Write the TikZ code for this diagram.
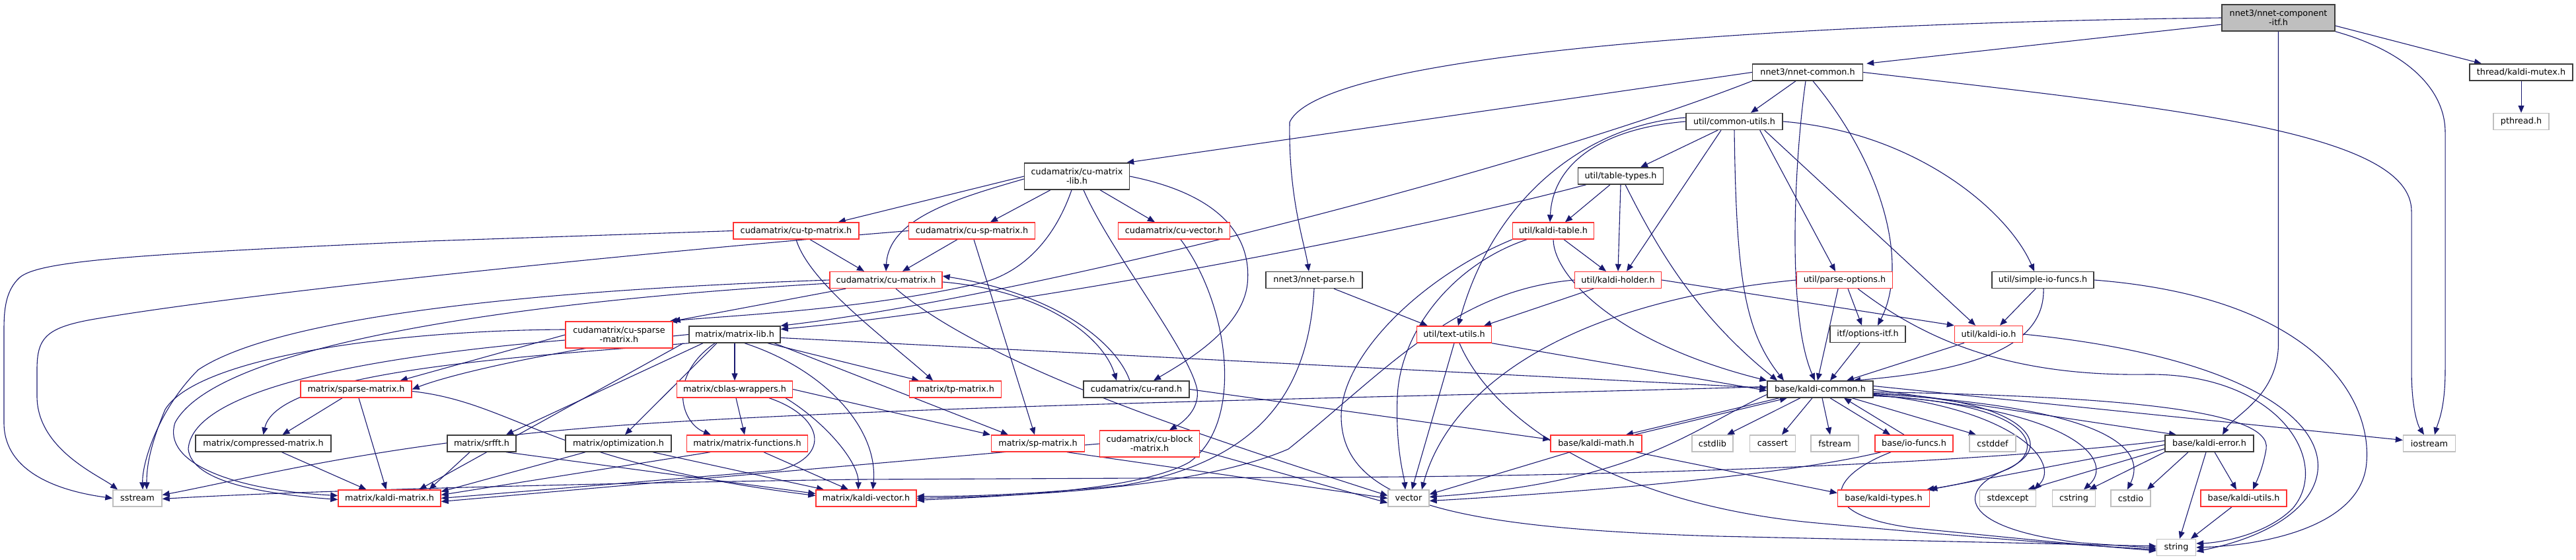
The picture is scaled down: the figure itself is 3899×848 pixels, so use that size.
\documentclass[tikz,border=0pt]{standalone}
\usepackage{fontspec}
\setmainfont{DejaVu Sans}
\usetikzlibrary{arrows.meta,backgrounds}
\definecolor{edgec}{RGB}{25,25,112}
\definecolor{redb}{RGB}{255,50,50}
\definecolor{grayb}{RGB}{191,191,191}
\definecolor{blackb}{RGB}{60,60,60}
\newcommand{\dxfont}{\fontsize{12.8}{14}\selectfont}
\begin{document}
\begin{tikzpicture}[x=1pt,y=-1pt,
 nd/.style={draw=blackb, fill=white, line width=1.4pt, minimum height=25pt, inner sep=0pt, font=\dxfont, align=center},
 rd/.style={nd, draw=redb},
 gy/.style={nd, draw=grayb},
 e/.style={draw=edgec, line width=1.1pt, -{Triangle[length=11pt,width=9pt]}}]
\useasboundingbox (0,0) rectangle (3899,848);
% nodes
\node[nd, fill=grayb, minimum width=171, minimum height=40] (A) at (3448.5,27) {nnet3/nnet-component\\-itf.h};
\node[nd, minimum width=156] (C) at (3816,109.5) {thread/kaldi-mutex.h};
\node[gy, minimum width=84] (D) at (3816,184) {pthread.h};
\node[nd, minimum width=167] (B) at (2736,109.5) {nnet3/nnet-common.h};
\node[nd, minimum width=146] (E) at (2625,184) {util/common-utils.h};
\node[nd, minimum width=159, minimum height=40] (F) at (1630,267) {cudamatrix/cu-matrix\\-lib.h};
\node[nd, minimum width=146] (G) at (1989,424) {nnet3/nnet-parse.h};
\node[nd, minimum width=129] (H) at (2453,266.5) {util/table-types.h};
\node[rd, minimum width=123] (I) at (2351,349.5) {util/kaldi-table.h};
\node[rd, minimum width=190] (J) at (1205,349.5) {cudamatrix/cu-tp-matrix.h};
\node[rd, minimum width=191] (K) at (1471,349.5) {cudamatrix/cu-sp-matrix.h};
\node[rd, minimum width=169] (L) at (1777,349.5) {cudamatrix/cu-vector.h};
\node[rd, minimum width=145] (M) at (2792,424) {util/parse-options.h};
\node[nd, minimum width=154] (N) at (3092,424) {util/simple-io-funcs.h};
\node[rd, minimum width=170] (O) at (1341,424) {cudamatrix/cu-matrix.h};
\node[rd, minimum width=131] (P) at (2449,424) {util/kaldi-holder.h};
\node[rd, minimum width=162, minimum height=40] (Q) at (937,507) {cudamatrix/cu-sparse\\-matrix.h};
\node[nd, minimum width=138] (R) at (1112,506.5) {matrix/matrix-lib.h};
\node[rd, minimum width=113] (S) at (2201,506.5) {util/text-utils.h};
\node[nd, minimum width=114] (T) at (2827,506) {itf/options-itf.h};
\node[rd, minimum width=103] (U) at (3010,506) {util/kaldi-io.h};
\node[rd, minimum width=168] (V) at (539,589.5) {matrix/sparse-matrix.h};
\node[rd, minimum width=139] (W) at (1446,589.5) {matrix/tp-matrix.h};
\node[nd, minimum width=160] (X) at (1720,589.5) {cudamatrix/cu-rand.h};
\node[nd, minimum width=160] (Y) at (2755,589.5) {base/kaldi-common.h};
\node[rd, minimum width=175] (Z) at (1112,589.5) {matrix/cblas-wrappers.h};
\node[nd, minimum width=205] (AA) at (398.5,671.5) {matrix/compressed-matrix.h};
\node[nd, minimum width=104] (AB) at (729,671.5) {matrix/srfft.h};
\node[nd, minimum width=160] (AC) at (936,671.5) {matrix/optimization.h};
\node[rd, minimum width=183] (AD) at (1131,671.5) {matrix/matrix-functions.h};
\node[rd, minimum width=141] (AE) at (1571,671.5) {matrix/sp-matrix.h};
\node[rd, minimum width=151, minimum height=40] (AF) at (1740,672) {cudamatrix/cu-block\\-matrix.h};
\node[rd, minimum width=138] (AG) at (2416,671.5) {base/kaldi-math.h};
\node[gy, minimum width=62] (AH) at (2592,671.5) {cstdlib};
\node[gy, minimum width=69] (AI) at (2683,671.5) {cassert};
\node[gy, minimum width=72] (AJ) at (2777,671.5) {fstream};
\node[rd, minimum width=118] (AK) at (2897,671.5) {base/io-funcs.h};
\node[gy, minimum width=70] (AL) at (3016,671.5) {cstddef};
\node[nd, minimum width=134] (AM) at (3344,671.5) {base/kaldi-error.h};
\node[gy, minimum width=79] (AN) at (3677,671.5) {iostream};
\node[gy, minimum width=74] (AO) at (208,754.5) {sstream};
\node[rd, minimum width=155] (AP) at (589.5,754.5) {matrix/kaldi-matrix.h};
\node[rd, minimum width=152] (AQ) at (1311,754.5) {matrix/kaldi-vector.h};
\node[gy, minimum width=62] (AR) at (2132,754.5) {vector};
\node[rd, minimum width=139] (AS) at (2851,754.5) {base/kaldi-types.h};
\node[gy, minimum width=85] (AT) at (3039,754.5) {stdexcept};
\node[gy, minimum width=65] (AU) at (3139,754.5) {cstring};
\node[gy, minimum width=60] (AV) at (3225,754.5) {cstdio};
\node[rd, minimum width=130] (AW) at (3396,754.5) {base/kaldi-utils.h};
\node[gy, minimum width=59] (AX) at (3294,829) {string};
% edges
\begin{scope}[on background layer]
% root
\draw[e] (A.west) .. controls (2700,35) and (2000,80) .. (1952,185) .. controls (1950,300) and (1975,370) .. ([xshift=-8]G.north);
\draw[e] ([yshift=-10]A.west) -- ([xshift=5]B.north east);
\draw[e] (A.south) -- (3448.5,520) .. controls (3448.5,600) and (3380,630) .. ([xshift=20]AM.north);
\draw[e] (A.south east) .. controls (3650,80) and (3701,140) .. (3701,200) -- (3701,560) .. controls (3701,620) and (3690,640) .. ([xshift=8]AN.north);
\draw[e] ([yshift=-12]A.east) -- ([xshift=-60]C.north);
\draw[e] (C) -- (D);
% B
\draw[e] (B.west) -- ([xshift=-5]F.north east);
\draw[e] (B.south west) .. controls (2300,260) and (1550,450) .. (R.north east);
\draw[e] ([xshift=-18]B.south) -- ([xshift=25]E.north);
\draw[e] ([xshift=-3]B.south) .. controls (2715,250) and (2705,480) .. ([xshift=-8]Y.north);
\draw[e] ([xshift=8]B.south) .. controls (2850,250) and (2890,400) .. ([xshift=15]T.north);
\draw[e] (B.east) .. controls (3300,165) and (3650,200) .. (3650,320) -- (3650,560) .. controls (3650,620) and (3660,645) .. ([xshift=-8]AN.north);
% E
\draw[e] ([xshift=-25]E.south) -- ([xshift=30]H.north);
\draw[e] ([xshift=-20]E.south) -- ([xshift=13]P.north);
\draw[e] (E.west) .. controls (2420,195) and (2350,250) .. ([xshift=-5]I.north);
\draw[e] ([yshift=6]E.west) .. controls (2400,190) and (2260,300) .. ([xshift=6]S.north);
\draw[e] (E.south) .. controls (2628,420) and (2640,500) .. ([xshift=-55]Y.north);
\draw[e] ([xshift=-35]E.south east) -- ([xshift=-14]M.north);
\draw[e] ([xshift=-28]E.south east) -- ([xshift=-20]U.north);
\draw[e] (E.east) .. controls (2900,200) and (3040,320) .. ([xshift=-13]N.north);
% F
\draw[e] (F.west) -- ([xshift=-32]J.north east);
\draw[e] ([yshift=-4]F.west) .. controls (1450,300) and (1345,330) .. (O.north);
\draw[e] ([xshift=-40]F.south) -- ([xshift=28]K.north);
\draw[e] ([xshift=-8]F.south) .. controls (1590,380) and (1530,420) .. (1478,430) .. controls (1300,470) and (1100,478) .. ([xshift=-5]Q.north east);
\draw[e] ([xshift=10]F.south) .. controls (1680,380) and (1800,530) .. (1812,590) .. controls (1816,620) and (1790,640) .. ([xshift=30]AF.north);
\draw[e] ([xshift=35]F.south) -- ([xshift=-29]L.north);
\draw[e] (F.east) .. controls (1850,295) and (1895,360) .. (1888,430) .. controls (1880,500) and (1790,550) .. ([xshift=26]X.north);
% G
\draw[e] ([xshift=30]G.south) -- ([xshift=-40]S.north);
\draw[e] (G.south) .. controls (1980,600) and (1900,700) .. (1700,735) .. controls (1550,750) and (1450,752) .. ([yshift=3]AQ.east);
% H
\draw[e] ([xshift=-16]H.south) -- ([xshift=18]I.north);
\draw[e] (H.south) -- (P.north);
\draw[e] ([xshift=13]H.south west) .. controls (2100,360) and (1500,470) .. ([yshift=8]R.east);
\draw[e] ([xshift=7]H.south) .. controls (2510,380) and (2570,480) .. ([xshift=-65]Y.north);
% I
\draw[e] ([xshift=16]I.south) -- ([xshift=-18]P.north);
\draw[e] (I.south) .. controls (2352,420) and (2450,520) .. (Y.north west);
\draw[e] ([xshift=-40]I.south) .. controls (2200,400) and (2120,500) .. (2115,600) .. controls (2112,680) and (2125,720) .. ([xshift=-5]AR.north);
\draw[e] (I.south west) .. controls (2150,420) and (2030,540) .. (2030,630) .. controls (2030,760) and (2200,800) .. (2600,812) -- ([yshift=2]AX.west);
% J
\draw[e] (J.west) -- (650,365) .. controls (200,385) and (60,395) .. (30,420) .. controls (8,440) and (6,470) .. (6,500) -- (6,640) .. controls (6,720) and (100,745) .. (AO.west);
\draw[e] ([xshift=21]J.south) -- ([xshift=-33]O.north);
\draw[e] (J.south) .. controls (1225,430) and (1350,520) .. ([xshift=-34]W.north);
% K
\draw[e] (K.west) .. controls (1000,380) and (400,440) .. (150,482) .. controls (70,495) and (56,510) .. (56,560) -- (56,600) .. controls (56,680) and (150,720) .. ([xshift=-30]AO.north);
\draw[e] ([xshift=-22]K.south) -- ([xshift=25]O.north);
\draw[e] ([xshift=3]K.south) -- ([xshift=-5]AE.north);
% L
\draw[e] ([xshift=10]L.south) .. controls (1860,460) and (1885,640) .. (1800,700) .. controls (1720,745) and (1500,752) .. ([yshift=-3]AQ.east);
% M
\draw[e] ([xshift=-10]M.south) -- ([xshift=-4]Y.north);
\draw[e] ([xshift=5]M.south) -- ([xshift=-9]T.north);
\draw[e] (M.west) .. controls (2350,460) and (2190,600) .. ([xshift=20]AR.north);
\draw[e] ([xshift=20]M.south) .. controls (2920,520) and (3050,570) .. (3250,567) .. controls (3450,565) and (3530,700) .. (3470,770) .. controls (3430,810) and (3360,822) .. ([yshift=6]AX.east);
% N
\draw[e] ([xshift=-11]N.south) -- ([xshift=17]U.north);
\draw[e] ([xshift=1]N.south) .. controls (3095,520) and (3000,560) .. ([xshift=50]Y.north);
\draw[e] (N.east) .. controls (3500,450) and (3590,600) .. (3582,700) .. controls (3575,800) and (3420,826) .. (AX.east);
% O
\draw[e] ([xshift=-61]O.south) -- (Q.north east);
\draw[e] (O.west) .. controls (800,440) and (420,480) .. (300,560) .. controls (240,620) and (215,700) .. ([xshift=8]AO.north);
\draw[e] ([yshift=-5]O.west) .. controls (800,455) and (330,520) .. (265,640) .. controls (245,700) and (350,742) .. ([yshift=4]AP.west);
\draw[e] ([yshift=-3]O.east) .. controls (1580,440) and (1670,510) .. ([xshift=-30]X.north);
\draw[e] ([xshift=-10]X.north) .. controls (1690,520) and (1600,445) .. ([yshift=6]O.east);
\draw[e] ([xshift=15]O.south) .. controls (1500,560) and (1850,670) .. ([yshift=4]AR.west);
% P
\draw[e] ([xshift=-37]P.south) -- ([xshift=45]S.north);
\draw[e] (P.east) -- (U.north west);
\draw[e] (P.west) .. controls (2200,440) and (2100,560) .. (1950,680) .. controls (1800,745) and (1500,752) .. (AQ.east);
% Q
\draw[e] (Q.west) -- ([xshift=-18]V.north east);
\draw[e] ([yshift=-8]Q.west) .. controls (500,545) and (290,600) .. (285,680) .. controls (290,730) and (400,748) .. ([yshift=-2]AP.west);
\draw[e] ([yshift=8]Q.west) .. controls (600,500) and (300,540) .. (250,620) .. controls (225,680) and (222,710) .. ([xshift=14]AO.north);
% R
\draw[e] (R.south) -- (Z.north);
\draw[e] ([xshift=-30]R.south) .. controls (1010,570) and (1030,640) .. ([xshift=-55]AD.north);
\draw[e] ([xshift=-27]R.south) -- ([xshift=10]AC.north);
\draw[e] ([xshift=-48]R.south) -- ([xshift=37]AB.north);
\draw[e] (R.south west) .. controls (800,540) and (420,560) .. (AA.north);
\draw[e] (R.west) .. controls (900,520) and (700,560) .. (V.east);
\draw[e] ([xshift=-8]R.south west) -- ([xshift=45]AP.north);
\draw[e] ([xshift=15]R.south) .. controls (1250,560) and (1330,650) .. ([xshift=10]AQ.north);
\draw[e] ([xshift=50]R.south) -- ([xshift=-55]W.north);
\draw[e] ([xshift=60]R.south) -- ([xshift=-45]AE.north);
\draw[e] ([yshift=-5]R.east) -- ([yshift=2]Y.west);
% S
\draw[e] (S.south) -- ([xshift=5]AR.north);
\draw[e] ([xshift=8]S.south) .. controls (2260,640) and (2450,765) .. (2750,792) .. controls (3000,815) and (3150,826) .. ([yshift=-3]AX.west);
\draw[e] (S.south east) -- ([yshift=-2]Y.west);
% T U
\draw[e] ([xshift=-12]T.south) -- ([xshift=15]Y.north);
\draw[e] ([xshift=-37]U.south) -- ([xshift=40]Y.north);
\draw[e] (U.east) .. controls (3600,560) and (3600,780) .. ([yshift=-6]AX.east);
% X
\draw[e] (X.east) -- ([yshift=6]AG.west);
% Y
\draw[e] ([xshift=-30]Y.south) -- ([xshift=22]AH.north);
\draw[e] ([xshift=-12]Y.south) -- ([xshift=14]AI.north);
\draw[e] ([xshift=3]Y.south) -- ([xshift=-7]AJ.north);
\draw[e] ([xshift=15]Y.south) -- ([xshift=-36]AK.north);
\draw[e] ([xshift=-15]AK.north) -- ([xshift=36]Y.south);
\draw[e] ([xshift=48]Y.south) -- ([xshift=-25]AL.north);
\draw[e] ([xshift=-62]Y.south) -- ([xshift=45]AG.north);
\draw[e] ([xshift=58]AG.north) -- ([xshift=-50]Y.south);
\draw[e] (Y.east) -- ([xshift=-50]AM.north);
\draw[e] ([yshift=5]Y.east) -- ([yshift=5]AN.west);
\draw[e] ([yshift=-4]Y.east) .. controls (3200,600) and (3440,620) .. (3430,680) .. controls (3425,710) and (3415,730) .. ([xshift=14]AW.north);
\draw[e] ([yshift=-6]Y.east) .. controls (3000,600) and (3075,640) .. (3073,675) .. controls (3070,710) and (2990,730) .. ([xshift=-5]AS.north east);
\draw[e] ([yshift=-8]Y.east) .. controls (3050,620) and (3120,700) .. ([xshift=40]AT.north);
\draw[e] ([yshift=-9]Y.east) .. controls (3150,620) and (3200,700) .. ([xshift=15]AU.north);
\draw[e] ([yshift=-7]Y.east) .. controls (3250,620) and (3240,700) .. ([xshift=-5]AV.north);
\draw[e] ([yshift=-10]Y.east) .. controls (3080,610) and (3100,680) .. (3040,710) .. controls (2960,740) and (2960,800) .. (3150,822) -- ([yshift=-1]AX.west);
\draw[e] ([yshift=-8]Y.west) .. controls (2560,650) and (2480,730) .. ([yshift=2]AR.east);
\draw[e] ([yshift=4]Y.west) .. controls (2200,600) and (1500,610) .. (1000,640) .. controls (600,665) and (400,720) .. ([yshift=5]AO.east);
% AG AK
\draw[e] ([xshift=-40]AG.south) -- ([yshift=6]AR.east);
\draw[e] ([xshift=60]AG.south) -- ([yshift=8]AS.west);
\draw[e] ([xshift=-35]AK.south) .. controls (2770,720) and (2740,780) .. (2900,800) .. controls (3050,815) and (3150,825) .. ([yshift=-5]AX.west);
\draw[e] ([xshift=-50]AK.south) .. controls (2700,720) and (2400,745) .. ([yshift=-4]AR.east);
% AM
\draw[e] ([xshift=-32]AM.south) -- ([xshift=25]AV.north);
\draw[e] (AM.south west) -- ([xshift=-10]AU.north east);
\draw[e] ([yshift=-8]AM.west) -- ([xshift=30]AT.north);
\draw[e] ([yshift=-2]AM.west) -- (AS.north east);
\draw[e] ([yshift=4]AM.west) .. controls (3000,700) and (2500,722) .. (1950,723) -- (1300,726) .. controls (800,733) and (400,746) .. ([yshift=-1]AO.east);
\draw[e] ([xshift=-5]AM.south) -- ([xshift=5]AX.north);
\draw[e] ([xshift=8]AM.south) -- ([xshift=-11]AW.north);
\draw[e] ([xshift=-18]AW.south) -- ([xshift=22]AX.north);
% matrix
\draw[e] ([xshift=28]AA.south) -- ([xshift=-35]AP.north);
\draw[e] ([xshift=-21]V.south) -- ([xshift=29]AA.north);
\draw[e] ([xshift=4]V.south) -- ([xshift=-5]AP.north);
\draw[e] ([yshift=-3]V.east) .. controls (780,610) and (830,700) .. ([yshift=4]AQ.west);
\draw[e] ([xshift=-18]AB.south) -- ([xshift=60]AP.north);
\draw[e] ([xshift=37]AB.south) -- ([yshift=7]AQ.west);
\draw[e] ([xshift=-50]AC.south) -- ([yshift=10]AP.east);
\draw[e] ([xshift=52]AC.south) -- ([xshift=-64]AQ.north);
\draw[e] ([xshift=-56]AD.south) -- ([yshift=5]AP.east);
\draw[e] ([xshift=25]AD.south) -- ([xshift=-27]AQ.north);
\draw[e] ([xshift=2]Z.south) -- ([xshift=-4]AD.north);
\draw[e] ([xshift=52]Z.south) .. controls (1245,630) and (1260,690) .. (1180,712) -- (AP.east);
\draw[e] (Z.east) -- ([xshift=-72]AE.north);
\draw[e] ([xshift=77]Z.south) .. controls (1250,640) and (1300,700) .. ([xshift=-12]AQ.north);
\draw[e] (AF.west) -- ([yshift=-5]AP.east);
\draw[e] ([yshift=-10]AF.east) -- ([yshift=-7]AR.west);
\draw[e] ([xshift=44]AE.south) -- (AR.west);
\end{scope}
\end{tikzpicture}
\end{document}
